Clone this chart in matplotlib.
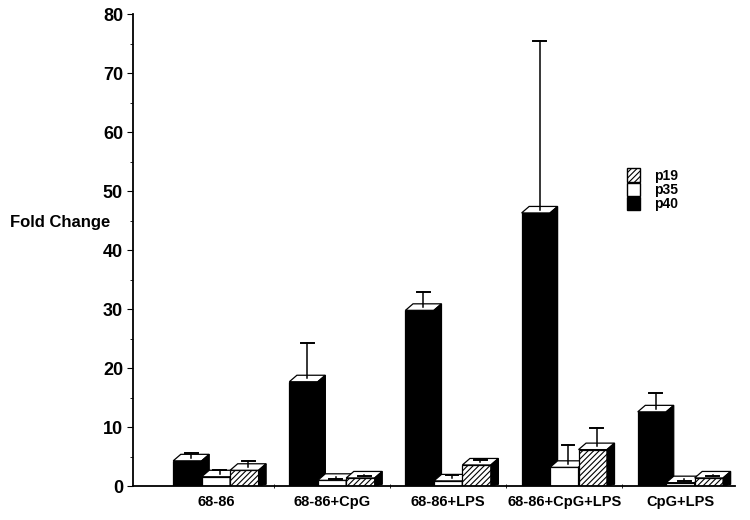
import matplotlib
matplotlib.use("Agg")
import matplotlib.pyplot as plt
from matplotlib.patches import Polygon, Patch
import numpy as np

plt.rcParams['font.family'] = ['Liberation Sans', 'DejaVu Sans']
plt.rcParams['font.weight'] = 'bold'
plt.rcParams['hatch.linewidth'] = 0.8

groups = ['68-86', '68-86+CpG', '68-86+LPS', '68-86+CpG+LPS', 'CpG+LPS']
p40 = [4.3, 17.7, 29.8, 46.3, 12.6]
p40_err = [1.3, 6.6, 3.1, 29.1, 3.2]
p35 = [1.6, 1.0, 0.9, 3.2, 0.6]
p35_err = [1.2, 0.2, 1.0, 3.8, 0.2]
p19 = [2.7, 1.4, 3.6, 6.2, 1.4]
p19_err = [1.6, 0.3, 0.8, 3.6, 0.3]

series = [
    ('p40', p40, p40_err, 'black', None),
    ('p35', p35, p35_err, 'white', None),
    ('p19', p19, p19_err, 'white', '//////'),
]

width = 0.245
dx = 0.065   # depth offset in x (data units)
dy = 1.1     # depth offset in y (data units)


def bar3d(ax, x, h, err, color, hatch):
    left = x - width / 2
    right = x + width / 2
    # front face
    ax.bar(x, h, width, color=color, edgecolor='black', hatch=hatch,
           linewidth=0.9, zorder=2)
    # top face
    top = Polygon([(left, h), (right, h), (right + dx, h + dy), (left + dx, h + dy)],
                  closed=True, facecolor='white', edgecolor='black',
                  linewidth=0.9, zorder=2)
    ax.add_patch(top)
    # side face
    side = Polygon([(right, 0), (right + dx, dy * 0.3), (right + dx, h + dy), (right, h)],
                   closed=True, facecolor='black', edgecolor='black',
                   linewidth=0.9, zorder=2)
    ax.add_patch(side)
    # error bar (upper only)
    cx = x + dx / 2
    y0 = h + dy / 2
    ax.plot([cx, cx], [y0, h + err], color='black', lw=1.1, zorder=3)
    ax.plot([cx - 0.055, cx + 0.055], [h + err, h + err], color='black', lw=1.4, zorder=3)


fig = plt.figure(figsize=(7.5, 5.2), dpi=100)
ax = fig.add_axes([0.177, 0.065, 0.803, 0.908])

xs = np.arange(len(groups))
for i in range(len(groups)):
    for j, (name, vals, errs, color, hatch) in enumerate(series):
        bar3d(ax, xs[i] + (j - 1) * width, vals[i], errs[i], color, hatch)

ax.set_xlim(-0.716, 4.47)
ax.set_ylim(0, 80)
ax.set_yticks(np.arange(0, 81, 10))
ax.set_yticks(np.arange(0, 81, 5), minor=True)
ax.set_xticks(xs)
ax.set_xticklabels(groups, fontsize=10.5, fontweight='bold')
ax.set_xticks(xs[:-1] + 0.5, minor=True)
ax.tick_params(axis='x', which='major', length=0, pad=6)
ax.tick_params(axis='x', which='minor', length=3, direction='inout')
ax.tick_params(axis='y', which='major', length=4, direction='out', labelsize=13, pad=3)
ax.tick_params(axis='y', which='minor', length=2, direction='out')
for lab in ax.get_yticklabels():
    lab.set_fontweight('bold')

ax.spines['top'].set_visible(False)
ax.spines['right'].set_visible(False)
ax.spines['left'].set_linewidth(1.3)
ax.spines['bottom'].set_linewidth(1.3)

fig.text(0.013, 0.573, 'Fold Change', fontsize=12, fontweight='bold', va='center', ha='left')

handles = [
    Patch(facecolor='white', edgecolor='black', hatch='//////', label='p19'),
    Patch(facecolor='white', edgecolor='black', label='p35'),
    Patch(facecolor='black', edgecolor='black', label='p40'),
]
fig.legend(handles=handles, loc='upper left', bbox_to_anchor=(0.828, 0.687),
           frameon=False, handlelength=1.0, handleheight=1.1, labelspacing=0.0,
           handletextpad=1.0, borderaxespad=0, prop={'weight': 'bold', 'size': 10})

fig.savefig('out.png', dpi=100)
